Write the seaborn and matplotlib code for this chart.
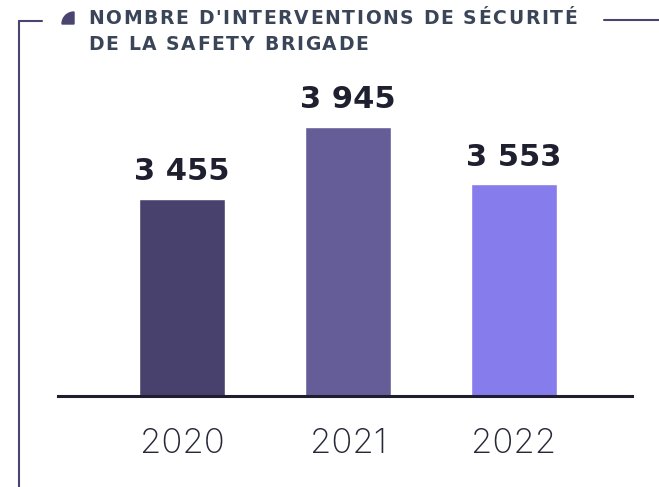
import seaborn as sns
import matplotlib.pyplot as plt
import pandas as pd
from matplotlib.lines import Line2D
from matplotlib.patches import Wedge
from matplotlib.transforms import IdentityTransform

# --- Data ---
years = ['2020', '2021', '2022']
interventions = [3455, 3945, 3553]
value_labels = ['3 455', '3 945', '3 553']
bar_colors = ['#48416e', '#655d98', '#877ceb']
title_lines = ["NOMBRE D'INTERVENTIONS DE SÉCURITÉ", "DE LA SAFETY BRIGADE"]

df = pd.DataFrame({'Année': years, 'Interventions': interventions})

# --- Visualization ---
sns.set_style("white")
plt.rcParams['font.family'] = ['Lato', 'DejaVu Sans']

W, H = 659, 487
fig = plt.figure(figsize=(W / 100, H / 100), dpi=100)
# axes spans the baseline: x 58..632 px, y 396 (bottom) .. 80 px
ax = fig.add_axes([58 / W, 1 - 396 / H, 574 / W, 316 / H])

sns.barplot(data=df, x='Année', y='Interventions', hue='Année',
            palette=bar_colors, width=0.518, saturation=1, legend=False, ax=ax)

ax.set_xlim(-0.747, 2.711)
ax.set_ylim(2112, 4264)

for i, (v, lab) in enumerate(zip(interventions, value_labels)):
    ax.annotate(lab, (i, v), xytext=(0, 9), textcoords='offset points',
                ha='center', va='bottom', fontsize=22, fontweight='bold',
                family='DejaVu Sans', color='#1e2030')

sns.despine(ax=ax, left=True, top=True, right=True)
ax.spines['bottom'].set_color('#1e1e30')
ax.spines['bottom'].set_linewidth(2.2)
ax.set_yticks([])
ax.set_xlabel('')
ax.set_ylabel('')
ax.tick_params(axis='x', length=0, pad=23, labelsize=25, labelcolor='#262838')
for t in ax.get_xticklabels():
    t.set_family(['Inter', 'DejaVu Sans'])
    t.set_fontweight('light')

# --- Frame and title ---
frame_color = '#4a4470'
fig.add_artist(Line2D([19 / W, 19 / W], [0, 1 - 20.5 / H], color=frame_color, lw=1.5))
fig.add_artist(Line2D([19 / W, 42 / W], [1 - 20.5 / H, 1 - 20.5 / H], color=frame_color, lw=1.5))
fig.add_artist(Line2D([604 / W, 1], [1 - 20 / H, 1 - 20 / H], color=frame_color, lw=1.5))
fig.add_artist(Wedge((74, H - 24), 12, 90, 180, transform=IdentityTransform(),
                     color=frame_color))

# title drawn letter by letter to get the wide tracking of the original
renderer = fig.canvas.get_renderer()
title_kw = dict(fontsize=13.5, fontweight='bold', family='DejaVu Sans',
                color='#3a4558', va='baseline', ha='left')


def char_widths(s):
    widths = []
    for ch in s:
        t = fig.text(0, 0, ch, **title_kw)
        widths.append(t.get_window_extent(renderer).width)
        t.remove()
    return widths


w1 = char_widths(title_lines[0])
tracking = (489 - sum(w1)) / (len(title_lines[0]) - 1)

for line, y_px in zip(title_lines, [24, 50]):
    x = 88
    for ch, w in zip(line, char_widths(line)):
        fig.text(x / W, 1 - y_px / H, ch, **title_kw)
        x += w + tracking

plt.savefig('out.png', dpi=100)
